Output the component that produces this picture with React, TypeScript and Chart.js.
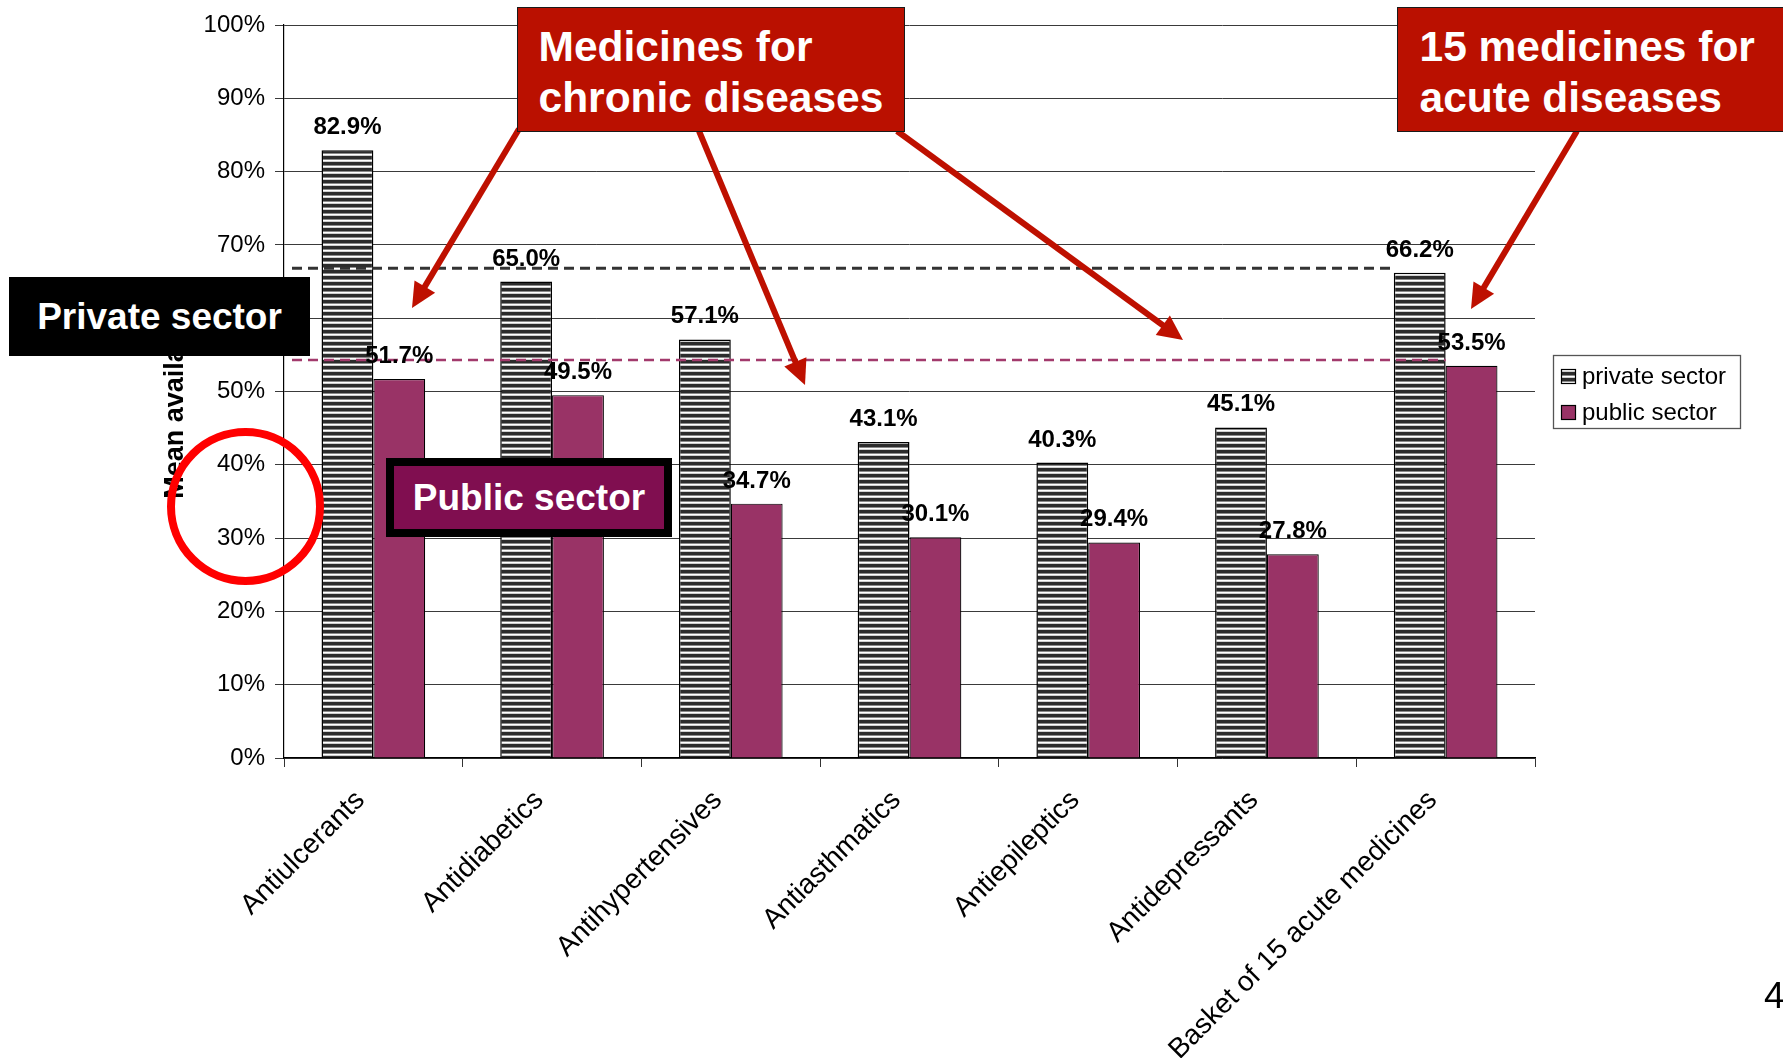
import React, { useEffect, useRef } from "react";
import { Chart, registerables } from "chart.js";

Chart.register(...registerables);

// ---------- data ----------
const categories = [
  "Antiulcerants",
  "Antidiabetics",
  "Antihypertensives",
  "Antiasthmatics",
  "Antiepileptics",
  "Antidepressants",
  "Basket of 15 acute medicines",
];
const seriesNames = ["private sector", "public sector"];
const privateSector = [82.9, 65.0, 57.1, 43.1, 40.3, 45.1, 66.2];
const publicSector = [51.7, 49.5, 34.7, 30.1, 29.4, 27.8, 53.5];
// dashed reference levels drawn at the acute-basket height
const referenceLevels = [66.8, 54.3];
const yAxisTitle = "Mean availability";
const yMax = 100;
const yStep = 10;

// ---------- annotation layout (page pixels) ----------
const ARROWS = [
  [519, 129, 412, 308],
  [699, 131, 805, 385],
  [897, 131, 1183, 340],
  [1577, 131, 1471, 309],
];
const CIRCLE = { cx: 245.5, cy: 506.5, r: 74.5, w: 8 };

const FONT = '"Liberation Sans", Arial, Helvetica, sans-serif';

function makeStripePattern(ctx: CanvasRenderingContext2D) {
  const c = document.createElement("canvas");
  c.width = 8;
  c.height = 6;
  const g = c.getContext("2d")!;
  g.fillStyle = "#ffffff";
  g.fillRect(0, 0, 8, 6);
  g.fillStyle = "#2c2c2c";
  g.fillRect(0, 0, 8, 3);
  g.fillStyle = "#8a8a8a";
  g.fillRect(0, 3, 8, 1);
  g.fillStyle = "#d0d0d0";
  g.fillRect(0, 5, 8, 1);
  return ctx.createPattern(c, "repeat")!;
}

function drawArrow(ctx: CanvasRenderingContext2D, x1: number, y1: number, x2: number, y2: number) {
  const dx = x2 - x1;
  const dy = y2 - y1;
  const len = Math.hypot(dx, dy);
  const ux = dx / len;
  const uy = dy / len;
  const hl = 25;
  const hw = 12;
  const bx = x2 - ux * hl;
  const by = y2 - uy * hl;
  ctx.strokeStyle = "#BE1000";
  ctx.fillStyle = "#BE1000";
  ctx.lineWidth = 6;
  ctx.lineCap = "butt";
  ctx.beginPath();
  ctx.moveTo(x1, y1);
  ctx.lineTo(bx + ux * 3, by + uy * 3);
  ctx.stroke();
  ctx.beginPath();
  ctx.moveTo(x2, y2);
  ctx.lineTo(bx - uy * hw, by + ux * hw);
  ctx.lineTo(bx + uy * hw, by - ux * hw);
  ctx.closePath();
  ctx.fill();
}

const overlayPlugin = {
  id: "overlay",
  afterDatasetsDraw(chart: any) {
    const { ctx, chartArea } = chart;
    const yScale = chart.scales.y;
    const meta0 = chart.getDatasetMeta(0);
    const last = meta0.data[meta0.data.length - 1].getProps(["x", "width"], true);
    ctx.save();
    // dashed reference lines
    const ends = [last.x - last.width / 2, last.x + last.width / 2];
    const colors = ["#333333", "#A23A6C"];
    const widths = [3, 2.5];
    referenceLevels.forEach((v, i) => {
      const py = yScale.getPixelForValue(v);
      ctx.beginPath();
      ctx.setLineDash([10, 6]);
      ctx.strokeStyle = colors[i];
      ctx.lineWidth = widths[i];
      ctx.moveTo(chartArea.left + 8, py);
      ctx.lineTo(ends[i], py);
      ctx.stroke();
    });
    ctx.setLineDash([]);
    // data labels
    ctx.font = `bold 24px ${FONT}`;
    ctx.fillStyle = "#000";
    ctx.textAlign = "center";
    ctx.textBaseline = "alphabetic";
    chart.data.datasets.forEach((ds: any, di: number) => {
      const meta = chart.getDatasetMeta(di);
      meta.data.forEach((bar: any, i: number) => {
        const p = bar.getProps(["x", "y"], true);
        ctx.fillText(ds.data[i].toFixed(1) + "%", p.x, p.y - 16);
      });
    });
    ctx.restore();
  },
  afterDraw(chart: any) {
    const { ctx, chartArea } = chart;
    ctx.save();
    ARROWS.forEach((a) => drawArrow(ctx, a[0], a[1], a[2], a[3]));
    // red circle
    ctx.beginPath();
    ctx.strokeStyle = "#FF0000";
    ctx.lineWidth = CIRCLE.w;
    ctx.arc(CIRCLE.cx, CIRCLE.cy, CIRCLE.r, 0, Math.PI * 2);
    ctx.stroke();
    // legend with border
    const w = 187;
    const h = 73;
    const x = chartArea.right + 18;
    const y = (chartArea.top + chartArea.bottom) / 2 - h / 2;
    ctx.fillStyle = "#fff";
    ctx.fillRect(x, y, w, h);
    ctx.strokeStyle = "#555";
    ctx.lineWidth = 1.3;
    ctx.strokeRect(x + 0.5, y + 0.5, w, h);
    chart.data.datasets.forEach((ds: any, i: number) => {
      const sy = y + 14 + i * 36;
      ctx.fillStyle = ds.backgroundColor;
      ctx.fillRect(x + 8, sy, 15, 15);
      ctx.strokeStyle = "#000";
      ctx.lineWidth = 1.2;
      ctx.strokeRect(x + 8.5, sy + 0.5, 14, 14);
      ctx.fillStyle = "#000";
      ctx.font = `24px ${FONT}`;
      ctx.textAlign = "left";
      ctx.textBaseline = "middle";
      ctx.fillText(ds.label, x + 29, sy + 8);
    });
    ctx.restore();
  },
};

const W = 1783;
const H = 1058;

export default function App() {
  const ref = useRef<HTMLCanvasElement | null>(null);

  useEffect(() => {
    const canvas = ref.current!;
    const ctx = canvas.getContext("2d")!;
    Chart.defaults.font.family = FONT;
    Chart.defaults.color = "#000";
    const stripes = makeStripePattern(ctx);
    const chart = new Chart(ctx, {
      type: "bar",
      data: {
        labels: categories,
        datasets: [
          {
            label: seriesNames[0],
            data: privateSector,
            backgroundColor: stripes as any,
            borderColor: "#000",
            borderWidth: 1.5,
            categoryPercentage: 0.58,
            barPercentage: 1.0,
          },
          {
            label: seriesNames[1],
            data: publicSector,
            backgroundColor: "#993366",
            borderColor: "#000",
            borderWidth: 1.2,
            categoryPercentage: 0.58,
            barPercentage: 1.0,
          },
        ],
      },
      options: {
        responsive: false,
        animation: false,
        events: [],
        layout: { padding: { left: 159, right: 248, top: 25, bottom: 0 } },
        plugins: {
          legend: { display: false },
          tooltip: { enabled: false },
          title: { display: false },
        },
        scales: {
          x: {
            grid: {
              display: true,
              drawOnChartArea: false,
              drawTicks: true,
              tickLength: 9,
              color: "#333",
            },
            border: { display: true, color: "#000", width: 1.2 },
            ticks: {
              autoSkip: false,
              maxRotation: 45,
              minRotation: 45,
              padding: 17,
              labelOffset: -13,
              font: { size: 28 },
              color: "#000",
            },
            afterFit: (scale: any) => {
              scale.height = 300;
            },
          },
          y: {
            min: 0,
            max: yMax,
            ticks: {
              stepSize: yStep,
              padding: 10,
              font: { size: 24 },
              color: "#000",
              callback: (v: any) => v + "%",
            },
            grid: { color: "#3a3a3a", lineWidth: 1, tickLength: 9 },
            border: { display: true, color: "#000", width: 1.2 },
            title: {
              display: true,
              text: yAxisTitle,
              font: { size: 27, weight: "bold" },
              color: "#000",
              padding: { top: 0, bottom: 0 },
            },
            afterFit: (scale: any) => {
              scale.width = 125;
            },
          },
        },
      },
      plugins: [overlayPlugin],
    } as any);
    return () => chart.destroy();
  }, []);

  const boxText: React.CSSProperties = {
    position: "absolute",
    fontFamily: FONT,
    fontWeight: "bold",
    color: "#fff",
    boxSizing: "border-box",
    whiteSpace: "nowrap",
  };

  return (
    <div
      style={{
        position: "fixed",
        left: 0,
        top: 0,
        width: W,
        height: H,
        overflow: "hidden",
        background: "#fff",
      }}
    >
      <canvas ref={ref} width={W} height={H} style={{ position: "absolute", left: 0, top: 0, width: W, height: H }} />
      <div
        style={{
          ...boxText,
          left: 9,
          top: 277,
          width: 301,
          height: 79,
          background: "#000",
          fontSize: 37,
          display: "flex",
          alignItems: "center",
          justifyContent: "center",
        }}
      >
        Private sector
      </div>
      <div
        style={{
          ...boxText,
          left: 386,
          top: 458,
          width: 286,
          height: 79,
          background: "#800E50",
          border: "8px solid #000",
          fontSize: 37,
          display: "flex",
          alignItems: "center",
          justifyContent: "center",
        }}
      >
        Public sector
      </div>
      <div
        style={{
          ...boxText,
          left: 517,
          top: 7,
          width: 388,
          height: 125,
          background: "#BA1000",
          border: "1.5px solid #1a1a1a",
          fontSize: 42.5,
          lineHeight: "51px",
          padding: "13px 0 0 20.5px",
        }}
      >
        Medicines for
        <br />
        chronic diseases
      </div>
      <div
        style={{
          ...boxText,
          left: 1397,
          top: 7,
          width: 400,
          height: 125,
          background: "#BA1000",
          border: "1.5px solid #1a1a1a",
          fontSize: 42.5,
          lineHeight: "51px",
          padding: "13px 0 0 21.5px",
        }}
      >
        15 medicines for
        <br />
        acute diseases
      </div>
      <div
        style={{
          position: "absolute",
          left: 1764,
          top: 977,
          fontFamily: FONT,
          fontSize: 37,
          lineHeight: "37px",
          color: "#000",
        }}
      >
        4
      </div>
    </div>
  );
}
